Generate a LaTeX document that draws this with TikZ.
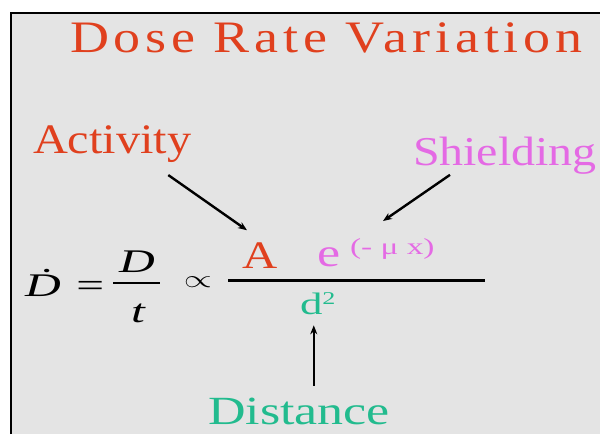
\documentclass[tikz,border=0pt]{standalone}
\usepackage{fontspec}
\setmainfont{Liberation Serif}
\newfontfamily\ttlfont[LetterSpace=9]{Liberation Serif}
\usetikzlibrary{arrows.meta,calc}
\definecolor{tred}{HTML}{E0401E}
\definecolor{tpink}{HTML}{E46AE4}
\definecolor{tgreen}{HTML}{22BB8E}
\definecolor{bgray}{HTML}{E4E4E4}
\tikzset{
  lbl/.style={inner sep=0pt, outer sep=0pt, anchor=base west},
  arr/.style={-{Stealth[length=9pt,width=7pt]}, line width=2.4pt, black},
}
\newcommand{\fs}[1]{\fontsize{#1pt}{#1pt}\selectfont}
\begin{document}
\begin{tikzpicture}[x=1pt,y=-1pt]
\useasboundingbox (0,0) rectangle (600,434);
\fill[white] (0,0) rectangle (600,434);
\fill[bgray] (11,13) rectangle (600,434);
\draw[line width=2.5pt] (11,434) -- (11,13) -- (600,13);

% title
\node[lbl, text=tred] (title) at (70,52) {\scalebox{1.2}[1]{\ttlfont\fs{45}Dose Rate Variation}};

% labels
\node[lbl, text=tred] (act) at (33,153) {\scalebox{1.15}[1]{\fs{42}Activity}};
\node[lbl, text=tpink] (sh) at (413,165) {\scalebox{1.17}[1]{\fs{41}Shielding}};
\node[lbl, text=tgreen] (dist) at (208,424) {\scalebox{1.3}[1]{\fs{40}Distance}};

% left equation
\node[lbl] (ddot) at (25,296) {\scalebox{1.5}[1]{\fs{33}\itshape \.{D} =}};
\draw[line width=2pt] (113,283) coordinate (barL) -- (160,283) coordinate (barR);
\node[inner sep=0pt, anchor=base] (num) at (137,272) {\scalebox{1.5}[1]{\fs{33}\itshape D}};
\node[inner sep=0pt, anchor=base] (den) at (138,322) {\scalebox{1.5}[1]{\fs{33}\itshape t}};
\node[inner sep=0pt] (prop) at (198,282) {\scalebox{1.45}[1]{\fs{38}$\propto$}};

% formula
\node[lbl, text=tred] (A) at (242,268) {\scalebox{1.25}[1]{\fs{39}A}};
\node[lbl, text=tpink] (e) at (317,266) {\scalebox{1.3}[1]{\fs{40}e}};
\node[lbl, text=tpink] (sup) at (350,254) {\scalebox{1.45}[1]{\fs{23}(- μ x)}};
\draw[line width=3pt] (228,280) coordinate (fracL) -- (485,280) coordinate (fracR);
\node[lbl, text=tgreen] (d2) at (300,314) {\scalebox{1.45}[1]{\fs{31}d\raisebox{10pt}{\fs{18}2}}};

% arrows
\draw[arr] ($(act.south east)+(-23,13)$) -- ($(A.north west)+(5,-12)$);
\draw[arr] ($(sh.south west)+(37,1)$) -- ($(sup.north west)+(33,-17)$);
\draw[arr] ($(d2.south |- dist.north)+(-4,-12)$) -- ($(d2.south)+(-4,11)$);
\end{tikzpicture}
\end{document}
